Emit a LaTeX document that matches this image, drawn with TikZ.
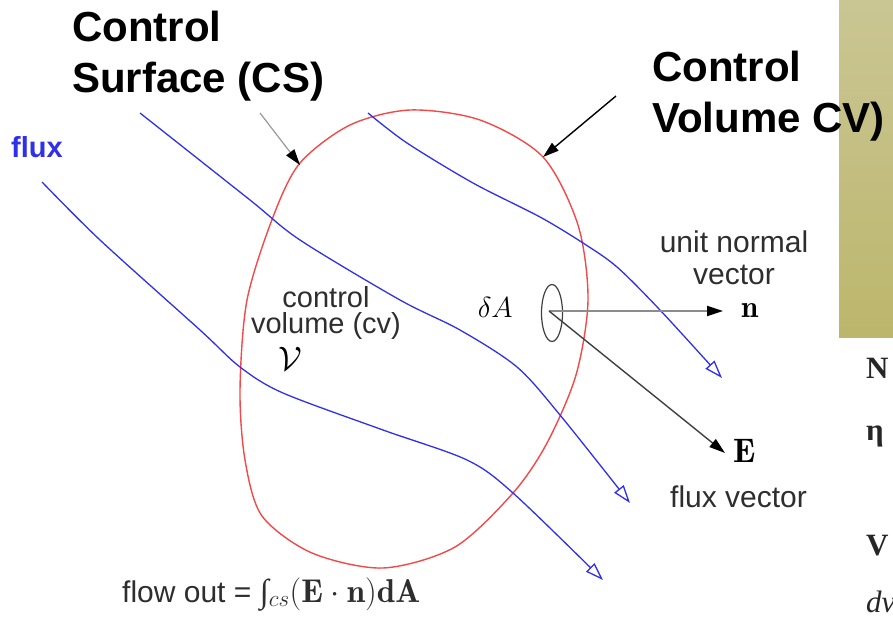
\RequirePackage{fix-cm}
\documentclass[tikz,border=0pt]{standalone}
\usepackage{amsmath}
\usepackage{fontspec}
\usepackage{xcolor}
\usepackage{tikz}
\usetikzlibrary{arrows.meta, positioning}

\newfontfamily\arialfont{Liberation Sans}
\newfontfamily\timesfont{Liberation Serif}
\definecolor{csred}{RGB}{245,72,72}
\definecolor{fluxblue}{RGB}{48,48,235}
\definecolor{slidetop}{RGB}{202,198,148}
\definecolor{slidebot}{RGB}{188,182,108}

\begin{document}
\begin{tikzpicture}[x=1pt, y=-1pt,
      title/.style={font=\arialfont\bfseries\fontsize{42}{51}\selectfont, align=left, inner sep=0pt},
      note/.style={font=\arialfont\fontsize{30}{26}\selectfont, text=black!82, inner sep=0pt, align=center},
      sym/.style={font=\fontsize{29}{29}\selectfont, inner sep=0pt},
      cut/.style={font=\timesfont\bfseries\fontsize{31}{31}\selectfont, text=black!85, inner sep=0pt, anchor=base west},
      fluxline/.style={fluxblue, line width=1.3pt, -{Triangle[open, length=18pt, width=12pt, fill=white]}},
      pointer/.style={-{Triangle[length=16pt, width=10pt, color=black]}, line width=1.4pt},
    ]
    \clip (0,0) rectangle (893,626);
    % slide panel on the right
    \fill[top color=slidetop, bottom color=slidebot] (839,0) rectangle (893,337);

    % control surface
    \draw[csred, line width=1.4pt] plot[smooth cycle] coordinates {
      (300,163) (350,125) (410,110) (480,120) (543,157) (578,225) (588,300)
      (576,375) (547,443) (513,493) (455,547) (383,568) (312,553) (262,516)
      (245,460) (240,390) (247,300) (273,217)};

    % flux lines
    \draw[fluxline] plot[smooth] coordinates {
      (368,113) (407,143) (473,183) (540,217) (583,243) (617,267) (660,310) (722,378)};
    \draw[fluxline] plot[smooth] coordinates {
      (140,113) (250,200) (300,240) (400,300) (460,330) (517,367) (560,415) (630,503)};
    \draw[fluxline] plot[smooth] coordinates {
      (42,182) (100,240) (200,330) (240,367) (283,393) (383,430) (467,460) (513,493) (603,580)};

    % labels
    \node[title, anchor=north west] (cslabel) at (72,11) {Control\\Surface (CS)};
    \node[title, anchor=north west] (cvlabel) at (652,51) {Control\\Volume CV)};
    \node[font=\arialfont\bfseries\fontsize{29}{29}\selectfont, text=fluxblue, inner sep=0pt, anchor=base west] (fluxlabel) at (11,157) {flux};
    \node[note, anchor=north, font=\arialfont\fontsize{29}{26}\selectfont] (cvtext) at (326,286) {control\\volume (cv)};
    \node[sym, anchor=base west, font=\fontsize{34}{34}\selectfont] (vol) at (278,370) {$\mathcal{V}$};
    \node[sym, anchor=base east, font=\fontsize{29}{29}\selectfont] (dalabel) at (513,317) {$\delta A$};
    \node[note, anchor=north, font=\arialfont\fontsize{30}{32}\selectfont] (unitn) at (734,231) {unit normal\\vector};
    \node[sym, anchor=base west, font=\fontsize{31}{31}\selectfont] (nlabel) at (741,317) {$\mathbf{n}$};
    \node[sym, anchor=base west, font=\fontsize{34}{34}\selectfont] (elabel) at (733,462) {$\mathbf{E}$};
    \node[note, anchor=base west] (fluxvec) at (670,507) {flux vector};
    \node[note, anchor=base west] (flowout) at (122,602) {flow out = {\fontsize{33}{33}\selectfont{\timesfont\itshape ∫}$_{cs}(\mathbf{E}\cdot\mathbf{n})\mathbf{dA}$}};

    % cut text beside the panel
    \node[cut] (cutn) at (866,378) {N};
    \node[cut] (cuteta) at (866,440) {η};
    \node[cut] (cutv) at (866,555) {V};
    \node[cut, font=\timesfont\itshape\fontsize{31}{31}\selectfont] (cutdv) at (866,612) {dv};

    % surface element and vectors
    \coordinate (da) at (549,311);
    \draw[black!75, line width=1.2pt] (552,313) ellipse [x radius=10.5, y radius=28.5];
    \coordinate (ntip) at (723,311);
    \coordinate (etip) at (725,453);
    \draw[pointer, black!45, line width=2pt] (da) -- (ntip);
    \draw[pointer, black!75] (da) -- (etip);

    % pointers from the titles
    \coordinate (cstail) at (260,113);
    \coordinate (cstip) at (300,165);
    \coordinate (cvtail) at (616,96);
    \coordinate (cvtip) at (543,157);
    \draw[pointer, black!40, line width=1.2pt] (cstail) -- (cstip);
    \draw[pointer] (cvtail) -- (cvtip);
  \end{tikzpicture}
\end{document}
